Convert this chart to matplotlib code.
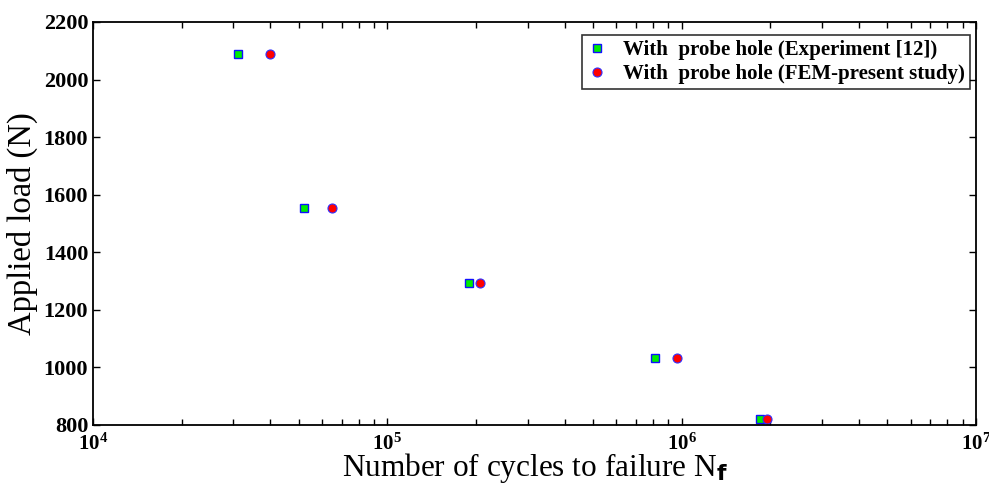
import matplotlib
matplotlib.use("Agg")
import matplotlib.pyplot as plt

# Experiment [12] data
cycles_exp = [31000, 52000, 190000, 813000, 1850000]
load_exp = [2089, 1555, 1295, 1032, 822]

# FEM present study
cycles_fem = [40000, 64700, 207000, 966000, 1950000]
load_fem = [2088, 1555, 1295, 1032, 822]

plt.rcParams['font.family'] = ['Liberation Serif', 'DejaVu Serif']
plt.rcParams['mathtext.fontset'] = 'custom'
plt.rcParams['mathtext.rm'] = 'Liberation Serif:bold'
plt.rcParams['mathtext.bf'] = 'Liberation Serif:bold'
plt.rcParams['mathtext.sf'] = 'DejaVu Sans:bold'
plt.rcParams['mathtext.default'] = 'rm'

fig = plt.figure(figsize=(9.89, 4.86), dpi=100)
ax = fig.add_axes([93/989, 1 - 425/486, (976 - 93)/989, (425 - 22)/486])

ax.plot(cycles_exp, load_exp, 's', color='#00ee00', markeredgecolor='#1010ff',
        markersize=5.5, markeredgewidth=1.0,
        label='With  probe hole (Experiment [12])')
ax.plot(cycles_fem, load_fem, 'o', color='#ff0000', markeredgecolor='#3030ff',
        markersize=6.5, markeredgewidth=0.8,
        label='With  probe hole (FEM-present study)')

ax.set_xscale('log')
ax.set_xlim(1e4, 1e7)
ax.set_ylim(800, 2200)
ax.set_yticks(range(800, 2201, 200))

ax.tick_params(which='both', direction='in', top=True, right=True,
               labelsize=16, width=1)
ax.tick_params(axis='x', which='major', pad=6, labelsize=15)
ax.tick_params(which='major', length=5)
ax.tick_params(which='minor', length=4)
for lab in ax.get_xticklabels() + ax.get_yticklabels():
    lab.set_fontweight('bold')
for s in ax.spines.values():
    s.set_linewidth(1.3)

ax.set_xlabel('Number of cycles to failure N$_\\mathsf{f}$', fontsize=22.5)
ax.xaxis.label.set_va('baseline')
ax.xaxis.set_label_coords(0.5, -0.126)
ax.set_ylabel('Applied load (N)', fontsize=23.5, labelpad=4)

leg = ax.legend(loc='upper right', bbox_to_anchor=(0.993, 0.968),
                prop={'weight': 'bold', 'size': 15},
                frameon=True, fancybox=False, edgecolor='black',
                borderaxespad=0, handletextpad=0.8, borderpad=0.25,
                labelspacing=0.2, handlelength=0.9)
leg.get_frame().set_linewidth(1.2)

fig.savefig('out.png', dpi=100)
